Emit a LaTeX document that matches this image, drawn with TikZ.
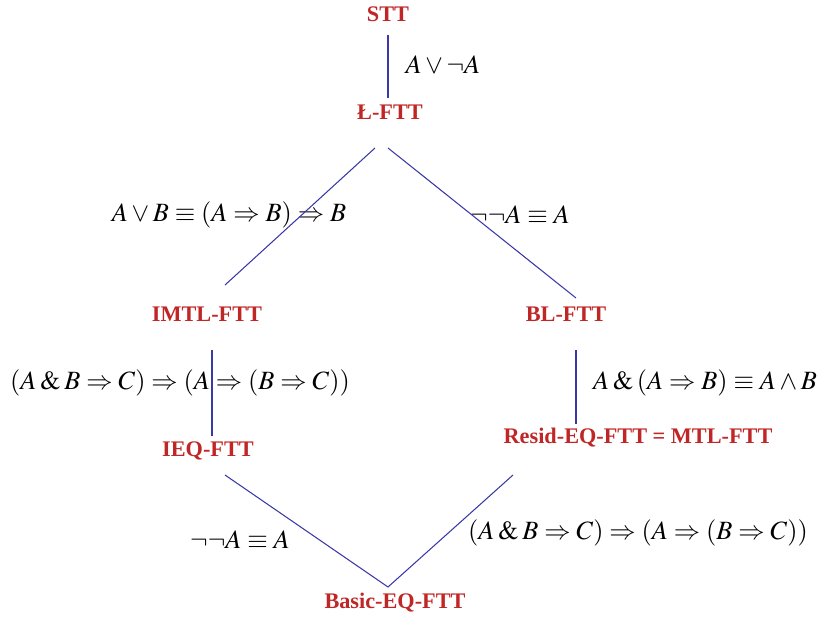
\documentclass[tikz,border=0pt]{standalone}
\usepackage{mathptmx}
\usepackage{fontspec}
\setmainfont{Liberation Serif}
\usepackage{tikz}
\definecolor{thred}{RGB}{192, 38, 38}
\definecolor{edgeblue}{RGB}{58, 56, 168}

\begin{document}
\begin{tikzpicture}[
  x=0.03cm, y=-0.03cm,
  theory/.style={inner sep=0pt, text=thred, font=\fontsize{19}{22}\selectfont\bfseries},
  axiom/.style={inner sep=0pt, font=\fontsize{22.5}{26}\selectfont},
  edge/.style={draw=edgeblue, line width=0.9pt},
]
\useasboundingbox (0,0) rectangle (822,619);

% Theories
\node[theory] (stt)   at (388,14)  {STT};
\node[theory] (luk)   at (390,112) {Ł-FTT};
\node[theory] (imtl)  at (207,314) {IMTL-FTT};
\node[theory] (bl)    at (566,314) {BL-FTT};
\node[theory] (ieq)   at (208,451) {IEQ-FTT};
\node[theory] (resid) at (638,438) {Resid-EQ-FTT = MTL-FTT};
\node[theory] (basic) at (395,603) {Basic-EQ-FTT};

% Axioms
\node[axiom] (ax1) at (443,65)  {$A\vee\neg A$};
\node[axiom] (ax2) at (229,215) {$A\vee B\equiv(A\Rightarrow B)\Rightarrow B$};
\node[axiom] (ax3) at (520,215) {$\neg\neg A\equiv A$};
\node[axiom] (ax4) at (180,383) {$(A\mathbin{\&}B\Rightarrow C)\Rightarrow(A\Rightarrow(B\Rightarrow C))$};
\node[axiom] (ax5) at (705,383) {$A\mathbin{\&}(A\Rightarrow B)\equiv A\wedge B$};
\node[axiom] (ax6) at (240,540) {$\neg\neg A\equiv A$};
\node[axiom] (ax7) at (638,533) {$(A\mathbin{\&}B\Rightarrow C)\Rightarrow(A\Rightarrow(B\Rightarrow C))$};

% Lines
\draw[edge] ([shift={(0,21)}]stt.center)    -- ([shift={(-2,-14)}]luk.center);
\draw[edge] ([shift={(-15,36)}]luk.center)  -- ([shift={(18,-29)}]imtl.center);
\draw[edge] ([shift={(-2,36)}]luk.center)   -- ([shift={(10,-16)}]bl.center);
\draw[edge] ([shift={(5,36)}]imtl.center)   -- ([shift={(4,-15)}]ieq.center);
\draw[edge] ([shift={(10,36)}]bl.center)    -- ([shift={(-62,-14)}]resid.center);
\draw[edge] ([shift={(17,24)}]ieq.center)   -- ([shift={(-7,-16)}]basic.center);
\draw[edge] ([shift={(-125,37)}]resid.center) -- ([shift={(-7,-16)}]basic.center);

\end{tikzpicture}
\end{document}
